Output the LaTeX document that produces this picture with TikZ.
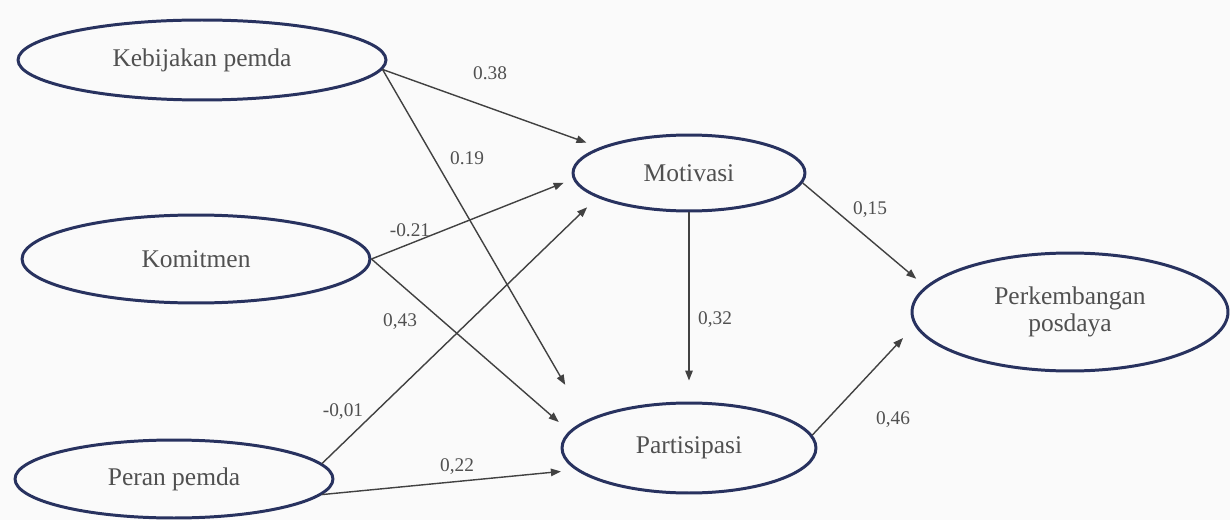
\documentclass[tikz,border=0pt]{standalone}
\usepackage{fontspec}
\setmainfont{Liberation Serif}
\usetikzlibrary{shapes.geometric,arrows.meta}
\definecolor{rim}{RGB}{40,50,95}
\definecolor{ink}{RGB}{80,80,80}
\definecolor{wire}{RGB}{65,65,65}
\definecolor{paper}{RGB}{250,250,250}
\tikzset{
  latent/.style={ellipse, draw=rim, line width=1.7pt, inner sep=0pt,
    text=ink, font=\fontsize{14.5}{15.5}\selectfont, align=center},
  link/.style={draw=wire, line width=0.8pt,
    -{Triangle[length=0.2cm,width=0.15cm]}},
  coef/.style={text=ink, font=\fontsize{11}{13}\selectfont, inner sep=1pt}
}
\begin{document}
\begin{tikzpicture}[x=0.02cm, y=-0.02cm]
\fill[paper] (0,0) rectangle (1230,520);
\useasboundingbox (0,0) rectangle (1230,520);

% latent variables
\node[latent, minimum width=7.36cm, minimum height=1.6cm]  (keb) at (202,60)  {Kebijakan pemda};
\node[latent, minimum width=6.96cm, minimum height=1.76cm] (kom) at (196,259) {Komitmen};
\node[latent, minimum width=6.36cm, minimum height=1.56cm] (per) at (174,479) {Peran pemda};
\node[latent, minimum width=4.64cm, minimum height=1.52cm] (mot) at (689,173) {Motivasi};
\node[latent, minimum width=5.08cm, minimum height=1.8cm]  (par) at (689,448) {Partisipasi};
\node[latent, minimum width=6.32cm, minimum height=2.36cm] (pkb) at (1070,312) {Perkembangan\\posdaya};

% paths
\draw[link, shorten >=0.28cm] (keb.-3) -- (mot.164);
\draw[link, shorten >=0.82cm] (keb.-3) -- (par.165);
\draw[link, shorten >=0.2cm]  (kom.east) -- (mot.183);
\draw[link, shorten >=0.28cm] (kom.east) -- (par.172.5);
\draw[link, shorten >=0.28cm] (per.6) -- (mot.195);
\draw[link, shorten >=0.3cm]  (per.-6) -- (par.191);
\draw[link, shorten >=0.42cm] (mot.south) -- (par.north);
\draw[link, shorten >=0.24cm] (mot.-5) -- (pkb.170.5);
\draw[link, shorten >=0.34cm] (par.6) -- (pkb.185);

% path coefficients
\node[coef] (c1) at (490,73)  {0.38};
\node[coef] (c2) at (467,158) {0.19};
\node[coef] (c3) at (410,230) {-0.21};
\node[coef] (c4) at (400,322) {0,43};
\node[coef] (c5) at (343,412) {-0,01};
\node[coef] (c6) at (457,467) {0,22};
\node[coef] (c7) at (715,320) {0,32};
\node[coef] (c8) at (870,210) {0,15};
\node[coef] (c9) at (893,420) {0,46};
\end{tikzpicture}
\end{document}
